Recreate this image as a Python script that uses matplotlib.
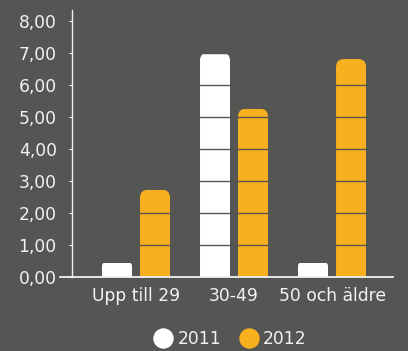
import matplotlib
matplotlib.use("Agg")
import matplotlib.pyplot as plt
from matplotlib.patches import PathPatch
from matplotlib.path import Path
from matplotlib.lines import Line2D
import numpy as np

categories = ["Upp till 29", "30-49", "50 och äldre"]
series_names = ["2011", "2012"]
values_2011 = [0.45, 7.00, 0.45]
values_2012 = [2.72, 5.25, 6.80]
yticks = [0, 1, 2, 3, 4, 5, 6, 7, 8]
ytick_labels = ["0,00", "1,00", "2,00", "3,00", "4,00", "5,00", "6,00", "7,00", "8,00"]

plt.rcParams['font.family'] = ['DejaVu Sans']

BG = "#555553"
WHITE = "#FFFFFF"
ORANGE = "#F8B01E"
TXT = "#F2F2F2"

W, H = 408, 351
fig = plt.figure(figsize=(W / 100, H / 100), dpi=100, facecolor=BG)
ax = fig.add_axes([72 / W, 74 / H, (393 - 72) / W, (277 - 10) / H], facecolor=BG)

x = np.arange(len(categories))
off = 0.194
bw = 0.306
ax.set_xlim(-0.653, 2.622)
ax.set_ylim(0, 8.33)

PX_X = 98.0   # pixels per x unit
PX_Y = 32.05  # pixels per y unit


def rounded(bars):
    for r in bars:
        bx, by = r.get_x(), r.get_y()
        w, h = r.get_width(), r.get_height()
        rpx = min(8.0, h * PX_Y * 0.25)
        rx, ry = rpx / PX_X, rpx / PX_Y
        x0, x1 = bx, bx + w
        y0, y1 = by - 1, by + h
        verts = [(x0, y0), (x0, y1 - ry), (x0, y1), (x0 + rx, y1),
                 (x1 - rx, y1), (x1, y1), (x1, y1 - ry), (x1, y0), (x0, y0)]
        codes = [Path.MOVETO, Path.LINETO, Path.CURVE3, Path.CURVE3,
                 Path.LINETO, Path.CURVE3, Path.CURVE3, Path.LINETO, Path.CLOSEPOLY]
        clip = PathPatch(Path(verts, codes), transform=ax.transData)
        r.set_clip_path(clip)


b1 = ax.bar(x - off, values_2011, bw, color=WHITE, zorder=2, linewidth=0)
b2 = ax.bar(x + off, values_2012, bw, color=ORANGE, zorder=2, linewidth=0)
rounded(b1)
rounded(b2)

for yv in yticks[1:]:
    ax.axhline(yv, color=BG, lw=1.0, zorder=3)

for s in ["top", "right"]:
    ax.spines[s].set_visible(False)
ax.spines["left"].set_color(TXT)
ax.spines["bottom"].set_color(TXT)
ax.spines["left"].set_linewidth(1.0)
ax.spines["bottom"].set_linewidth(1.3)
ax.spines["left"].set_zorder(5)
ax.spines["bottom"].set_zorder(5)

# extend the baseline to the left of the y axis
ax.plot([-12 / 321, 0], [0, 0], transform=ax.transAxes, color=TXT, lw=1.3,
        clip_on=False, zorder=5)

ax.set_yticks(yticks)
ax.set_yticklabels(ytick_labels, fontsize=12.3, color=TXT)
ax.tick_params(axis="y", length=2, width=0.8, color=TXT, pad=9)
ax.set_xticks(x)
ax.set_xticklabels(categories, fontsize=12.3, color=TXT)
ax.tick_params(axis="x", length=0, pad=7)

handles = [Line2D([], [], marker="o", linestyle="none", markersize=13.7,
                  markerfacecolor=c, markeredgecolor=c) for c in (WHITE, ORANGE)]
leg = fig.legend(handles, series_names, loc="center", bbox_to_anchor=(0.565, 0.035),
                 ncol=2, frameon=False, fontsize=12.3, handlelength=1.0,
                 handletextpad=0.35, columnspacing=1.1, borderpad=0, borderaxespad=0)
for t in leg.get_texts():
    t.set_color(TXT)

fig.savefig("out.png", dpi=100, facecolor=BG)
